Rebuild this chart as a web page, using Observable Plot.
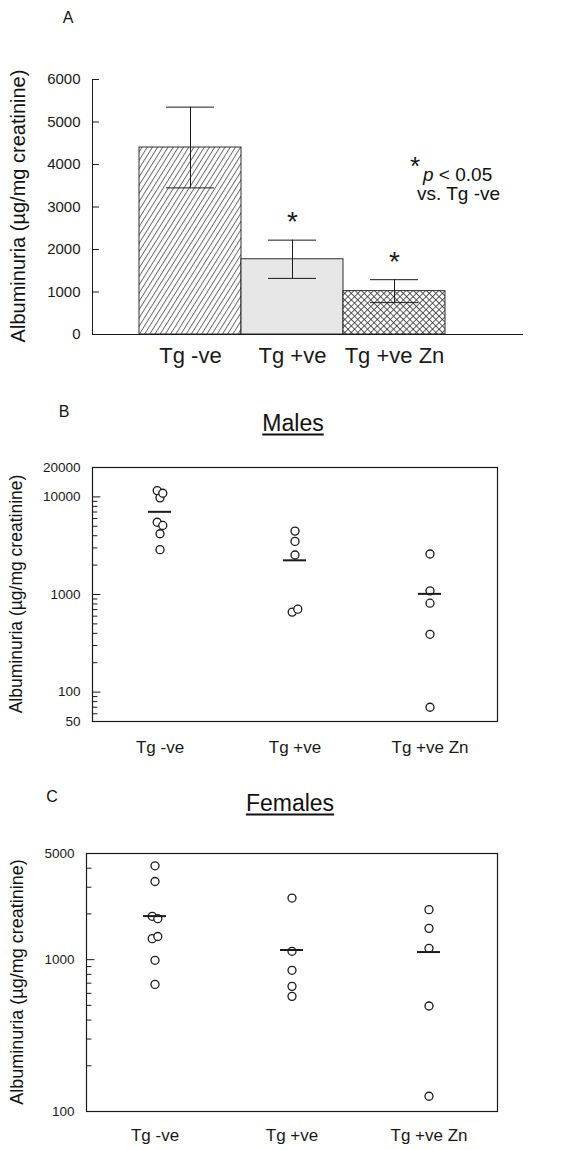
<!DOCTYPE html>
<html>
<head>
<meta charset="utf-8">
<script src="https://cdn.jsdelivr.net/npm/d3@7"></script>
<script src="https://cdn.jsdelivr.net/npm/@observablehq/plot@0.6"></script>
<style>
  body { margin: 0; background: #fff; }
  #root { position: relative; width: 574px; height: 1150px; overflow: hidden;
          font-family: "Liberation Sans", Arial, Helvetica, sans-serif; color: #111; }
  .abs { position: absolute; white-space: nowrap; line-height: 1; }
  .ylab { transform: translate(-50%, -50%) rotate(-90deg); }
  .ctr { transform: translate(-50%, -50%); }
  .panel { position: absolute; left: 0; }
</style>
</head>
<body>
<div id="root"></div>
<script>
// ---------- data ----------
const groups = ["Tg -ve", "Tg +ve", "Tg +ve Zn"];

// Panel A: mean albuminuria with error (SEM)
const barMeans = [4400, 1770, 1020];
const barErrors = [950, 450, 270];
const barSignificant = [false, true, true];
const barTickLabels = [0, 1000, 2000, 3000, 4000, 5000, 6000];

// Panel B: males, individual animals
const maleGroup = ["Tg -ve", "Tg -ve", "Tg -ve", "Tg -ve", "Tg -ve", "Tg -ve", "Tg -ve",
                   "Tg +ve", "Tg +ve", "Tg +ve", "Tg +ve", "Tg +ve",
                   "Tg +ve Zn", "Tg +ve Zn", "Tg +ve Zn", "Tg +ve Zn", "Tg +ve Zn"];
const maleValue = [11600, 10890, 9770, 5500, 5100, 4190, 2880,
                   4460, 3500, 2540, 660, 708,
                   2600, 1090, 815, 391, 70];
const maleSide  = [-1, 1, 0, -1, 1, 0, 0,
                   0, 0, 0, -1, 1,
                   0, 0, 0, 0, 0];
const maleMeans = [7030, 2240, 1015];
const maleTickLabels = [50, 100, 1000, 10000, 20000];
const maleMajorTicks = [100, 1000, 10000];

// Panel C: females, individual animals
const femaleGroup = ["Tg -ve", "Tg -ve", "Tg -ve", "Tg -ve", "Tg -ve", "Tg -ve", "Tg -ve", "Tg -ve",
                     "Tg +ve", "Tg +ve", "Tg +ve", "Tg +ve", "Tg +ve",
                     "Tg +ve Zn", "Tg +ve Zn", "Tg +ve Zn", "Tg +ve Zn", "Tg +ve Zn"];
const femaleValue = [4150, 3270, 1930, 1860, 1420, 1375, 990, 687,
                     2545, 1135, 851, 667, 573,
                     2134, 1607, 1187, 495, 126];
const femaleSide  = [0, 0, -1, 1, 1, -1, 0, 0,
                     0, 0, 0, 0, 0,
                     0, 0, 0, 0, 0];
const femaleMeans = [1935, 1157, 1122];
const femaleTickLabels = [100, 1000, 5000];
const femaleMajorTicks = [100, 1000];

const yLabel = "Albuminuria (\u00b5g/mg creatinine)";

// ---------- helpers ----------
const ink = "#1a1a1a";
const root = document.getElementById("root");
const fontFamily = '"Liberation Sans", Arial, Helvetica, sans-serif';

function addText(txt, left, top, size, cls, extra = "") {
  const d = document.createElement("div");
  d.className = "abs " + (cls || "");
  d.style.left = left + "px";
  d.style.top = top + "px";
  d.style.fontSize = size + "px";
  if (extra) d.style.cssText += extra;
  d.innerHTML = txt;
  root.appendChild(d);
  return d;
}
function place(svg, top) {
  const wrap = document.createElement("div");
  wrap.className = "panel";
  wrap.style.top = top + "px";
  wrap.appendChild(svg);
  root.appendChild(wrap);
}
const tickShape = { draw(context, l) { context.moveTo(0, 0); context.lineTo(0, -l); } };
function minorLogTicks(lo, hi) {
  const out = [];
  for (let p = 1; p <= 1e5; p *= 10)
    for (let k = 2; k <= 9; k++) { const v = k * p; if (v > lo && v < hi) out.push(v); }
  return out;
}
function yTickText(values, size) {
  return Plot.text(values, { y: d => d, frameAnchor: "left", dx: -12, textAnchor: "end",
                             text: d => String(d), fontSize: size, fill: ink });
}

// ---------- Panel A ----------
const fills = ["url(#hatchDiag)", "#e7e7e7", "url(#hatchCross)"];
const barData = groups.map((g, i) => ({
  group: g, mean: barMeans[i], lo: barMeans[i] - barErrors[i], hi: barMeans[i] + barErrors[i],
  fill: fills[i], sig: barSignificant[i]
}));

const plotA = Plot.plot({
  width: 574, height: 380,
  marginLeft: 92, marginRight: 51, marginTop: 79, marginBottom: 46,
  x: { domain: groups, range: [138, 446], padding: 0 },
  y: { domain: [0, 6000], axis: null },
  color: { type: "identity" },
  style: { fontFamily, color: ink, background: "transparent", overflow: "visible" },
  marks: [
    Plot.barY(barData, { x: "group", y: "mean", fill: "fill", stroke: ink, strokeWidth: 0.9 }),
    Plot.frame({ anchor: "left", stroke: ink, strokeWidth: 1 }),
    Plot.vector(barTickLabels, { y: d => d, frameAnchor: "left", rotate: 90, length: 6, anchor: "start",
                                 shape: tickShape, stroke: ink, strokeWidth: 1 }),
    yTickText(barTickLabels, 15),
    Plot.ruleY([0], { stroke: ink, strokeWidth: 1.1 }),
    Plot.ruleX(barData, { x: "group", y1: "lo", y2: "hi", stroke: ink, strokeWidth: 1 }),
    Plot.tickY(barData, { x: "group", y: "lo", inset: 27, stroke: ink, strokeWidth: 1 }),
    Plot.tickY(barData, { x: "group", y: "hi", inset: 27, stroke: ink, strokeWidth: 1 }),
    Plot.text(barData.filter(d => d.sig), { x: "group", y: "hi", text: () => "*", dy: -18,
                                            fontSize: 28, fill: ink }),
    Plot.axisX({ tickSize: 0, tickPadding: 13, fontSize: 22, label: null })
  ]
});
// patterns
const defs = document.createElementNS("http://www.w3.org/2000/svg", "defs");
defs.innerHTML = `
  <pattern id="hatchDiag" patternUnits="userSpaceOnUse" width="4.4" height="8" patternTransform="rotate(32)">
    <rect width="4.4" height="8" fill="#fff"/>
    <line x1="0.5" y1="0" x2="0.5" y2="8" stroke="#333" stroke-width="0.75"/>
  </pattern>
  <pattern id="hatchCross" patternUnits="userSpaceOnUse" width="4.6" height="4.6" patternTransform="rotate(45)">
    <rect width="4.6" height="4.6" fill="#fff"/>
    <line x1="0.5" y1="0" x2="0.5" y2="4.6" stroke="#333" stroke-width="0.8"/>
    <line x1="0" y1="0.5" x2="4.6" y2="0.5" stroke="#333" stroke-width="0.8"/>
  </pattern>`;
plotA.insertBefore(defs, plotA.firstChild);
place(plotA, 0);

// ---------- Panels B and C ----------
function scatterPanel(data, meanData, domain, tickLabels, majorTicks, opts) {
  const minor = minorLogTicks(domain[0], domain[1]).filter(v => !majorTicks.includes(v));
  return Plot.plot({
    width: 574, height: opts.height,
    marginLeft: opts.left, marginRight: 77, marginTop: opts.top, marginBottom: opts.bottom,
    x: { domain: groups, padding: 0 },
    y: { type: "log", domain, axis: null },
    style: { fontFamily, color: ink, background: "transparent", overflow: "visible" },
    marks: [
      Plot.frame({ stroke: ink, strokeWidth: 1.2 }),
      Plot.vector(minor, { y: d => d, frameAnchor: "left", rotate: 90, length: 4.5, anchor: "start",
                           shape: tickShape, stroke: ink, strokeWidth: 1 }),
      Plot.vector(majorTicks, { y: d => d, frameAnchor: "left", rotate: 90, length: 7.5, anchor: "start",
                                shape: tickShape, stroke: ink, strokeWidth: 1 }),
      yTickText(tickLabels, 13.5),
      ...[-1, 0, 1].map(s => Plot.dot(data.filter(d => d.side === s), {
        x: "group", y: "value", dx: s * 2.8, r: 4, stroke: ink, strokeWidth: 1.3, fill: "#fff"
      })),
      Plot.tickY(meanData, { x: "group", y: "mean", inset: opts.meanInset, stroke: ink, strokeWidth: 2 }),
      Plot.axisX({ tickSize: 0, tickPadding: opts.labelPad, fontSize: 17, label: null })
    ]
  });
}

const maleData = maleValue.map((v, i) => ({ group: maleGroup[i], value: v, side: maleSide[i] }));
const maleMeanData = groups.map((g, i) => ({ group: g, mean: maleMeans[i] }));
const plotB = scatterPanel(maleData, maleMeanData, [50, 20000], maleTickLabels, maleMajorTicks,
  { height: 330, left: 92, top: 27, bottom: 49, meanInset: 56, labelPad: 19 });
place(plotB, 440);

const femaleData = femaleValue.map((v, i) => ({ group: femaleGroup[i], value: v, side: femaleSide[i] }));
const femaleMeanData = groups.map((g, i) => ({ group: g, mean: femaleMeans[i] }));
const plotC = scatterPanel(femaleData, femaleMeanData, [100, 5000], femaleTickLabels, femaleMajorTicks,
  { height: 320, left: 86, top: 23, bottom: 39, meanInset: 57, labelPad: 17 });
place(plotC, 830);

// ---------- titles, labels, annotations ----------
addText("A", 68, 18, 16, "ctr");
addText(yLabel, 18, 206, 20, "ylab");
addText("*", 415, 166, 26, "ctr");
addText("<i>p</i> &lt; 0.05", 423, 165, 19, "");
addText("vs. Tg -ve", 417, 184, 19, "");

addText("B", 64, 412, 16, "ctr");
addText("Males", 293, 423, 23, "ctr", "text-decoration: underline; text-underline-offset: 3px;");
addText(yLabel, 17, 594, 17.5, "ylab");

addText("C", 52, 797, 16, "ctr");
addText("Females", 290, 803, 23, "ctr", "text-decoration: underline; text-underline-offset: 3px;");
addText(yLabel, 17, 982, 18, "ylab");
</script>
</body>
</html>
